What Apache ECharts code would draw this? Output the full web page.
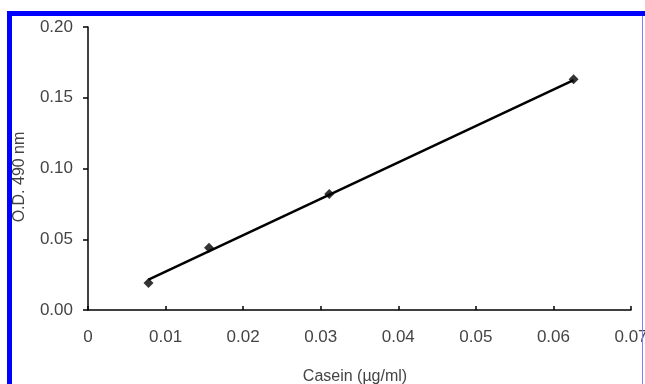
<!DOCTYPE html>
<html>
<head>
<meta charset="utf-8">
<script src="https://cdn.jsdelivr.net/npm/echarts@6/dist/echarts.min.js"></script>
<style>
html,body{margin:0;padding:0;background:#fff;}
#chart{width:645px;height:384px;}
</style>
</head>
<body>
<div id="chart"></div>
<script>
// Data
var caseinConc = [0.0078, 0.0156, 0.0311, 0.0626];
var odValues = [0.019, 0.044, 0.082, 0.163];
// Trend line endpoints
var trendX = [0.0078, 0.0626];
var trendY = [0.0215, 0.1625];
var xTicks = [0, 0.01, 0.02, 0.03, 0.04, 0.05, 0.06, 0.07];
var yTicks = [0, 0.05, 0.10, 0.15, 0.20];

var points = caseinConc.map(function (x, i) { return [x, odValues[i]]; });
var trend = trendX.map(function (x, i) { return [x, trendY[i]]; });

var chart = echarts.init(document.getElementById('chart'), null, {renderer: 'canvas'});
var fontFamily = '"Liberation Sans", Arial, sans-serif';
var textColor = '#444';

chart.setOption({
  animation: false,
  backgroundColor: '#fff',
  grid: {left: 88, right: 14, top: 27, bottom: 74, containLabel: false, outerBoundsMode: 'none'},
  xAxis: {
    type: 'value',
    min: 0, max: 0.07, interval: 0.01,
    name: 'Casein (µg/ml)',
    nameLocation: 'middle',
    nameGap: 59,
    nameTextStyle: {color: textColor, fontFamily: fontFamily, fontSize: 16, padding: [0, 9, 0, 0]},
    axisLine: {show: true, lineStyle: {color: '#000', width: 1.5}},
    axisTick: {show: true, inside: true, length: 4, lineStyle: {color: '#000', width: 1.5}},
    splitLine: {show: false},
    axisLabel: {
      color: textColor, fontFamily: fontFamily, fontSize: 17, margin: 19,
      formatter: function (v) { return v === 0 ? '0' : v.toFixed(2); }
    }
  },
  yAxis: {
    type: 'value',
    min: 0, max: 0.20, interval: 0.05,
    name: 'O.D. 490 nm',
    nameLocation: 'middle',
    nameGap: 60,
    nameTextStyle: {color: textColor, fontFamily: fontFamily, fontSize: 16, padding: [0, 17, 0, 0]},
    axisLine: {show: true, lineStyle: {color: '#000', width: 1.5}},
    axisTick: {show: true, inside: false, length: 5, lineStyle: {color: '#000', width: 1.5}},
    splitLine: {show: false},
    axisLabel: {
      color: textColor, fontFamily: fontFamily, fontSize: 17, margin: 15,
      formatter: function (v) { return v.toFixed(2); }
    }
  },
  graphic: [
    {type: 'rect', shape: {x: 7, y: 11, width: 5, height: 373}, style: {fill: '#0000ff'}, z: 100},
    {type: 'rect', shape: {x: 7, y: 11, width: 638, height: 5}, style: {fill: '#0000ff'}, z: 100},
    {type: 'rect', shape: {x: 642, y: 16, width: 1, height: 368}, style: {fill: '#8080ff'}, z: 100}
  ],
  series: [
    {
      type: 'line',
      data: trend,
      symbol: 'none',
      lineStyle: {color: '#000', width: 2.5},
      z: 2
    },
    {
      type: 'scatter',
      data: points,
      symbol: 'diamond',
      symbolSize: 10,
      itemStyle: {color: '#000'},
      z: 3
    }
  ]
});
</script>
</body>
</html>
